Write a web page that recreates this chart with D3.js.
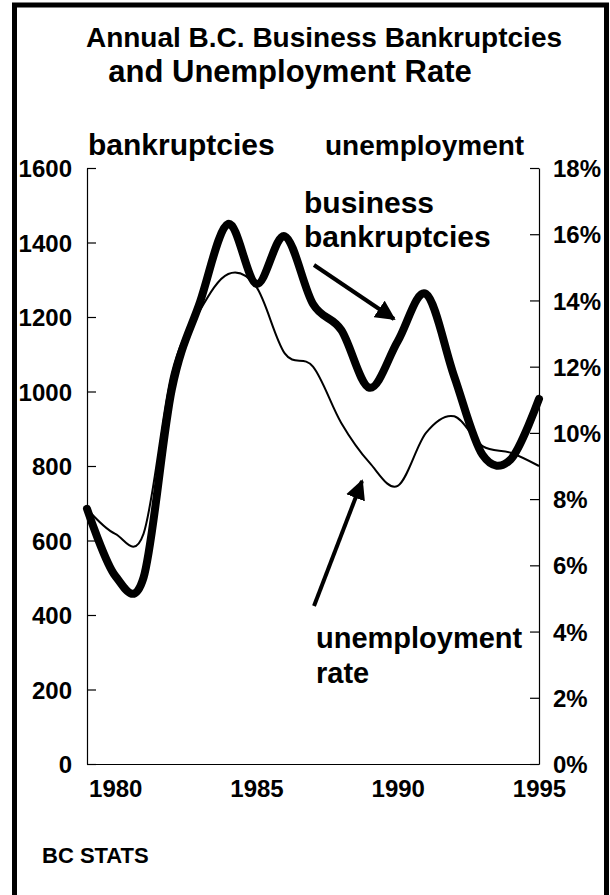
<!DOCTYPE html>
<html>
<head>
<meta charset="utf-8">
<script src="https://cdn.jsdelivr.net/npm/d3@7"></script>
<style>
  body { margin: 0; background: #fff; }
  text { font-family: "Liberation Sans", Arial, sans-serif; font-weight: bold; fill: #000; }
</style>
</head>
<body>
<div id="chart"></div>
<script>
var svgWidth = 610;
var svgHeight = 895;

// data
var years = [1979, 1980, 1981, 1982, 1983, 1984, 1985, 1986, 1987,
             1988, 1989, 1990, 1991, 1992, 1993, 1994, 1995];
var bankruptcies = [685, 505, 500, 1005, 1240, 1450, 1289, 1417, 1235,
                    1165, 1010, 1135, 1262, 1040, 830, 818, 980];
var unemployment = [7.7, 6.95, 6.95, 11.8, 13.7, 14.8, 14.4, 12.4, 12.0,
                    10.3, 9.1, 8.4, 10.0, 10.5, 9.6, 9.4, 9.0];
var yearTicks = [1980, 1985, 1990, 1995];
var countTicks = [0, 200, 400, 600, 800, 1000, 1200, 1400, 1600];
var rateTicks = [0, 2, 4, 6, 8, 10, 12, 14, 16, 18];

var plot = { left: 87, right: 539, top: 168, bottom: 764 };

var svg = d3.select("#chart")
  .append("svg")
  .attr("width", svgWidth)
  .attr("height", svgHeight);

// outer frame
svg.append("rect")
  .attr("x", 14.5).attr("y", 5)
  .attr("width", 592).attr("height", 910)
  .attr("fill", "none")
  .attr("stroke", "#000")
  .attr("stroke-width", 5);

var x = d3.scaleLinear().domain([1979, 1995]).range([plot.left, plot.right]);
var yLeft = d3.scaleLinear().domain([0, 1600]).range([plot.bottom, plot.top]);
var yRight = d3.scaleLinear().domain([0, 18]).range([plot.bottom, plot.top]);

// axes
var leftAxis = svg.append("g")
  .attr("transform", `translate(${plot.left},0)`)
  .call(d3.axisLeft(yLeft).tickValues(countTicks).tickSize(-9).tickPadding(15)
    .tickSizeOuter(0).tickFormat(d3.format("d")));

var rightAxis = svg.append("g")
  .attr("transform", `translate(${plot.right},0)`)
  .call(d3.axisRight(yRight).tickValues(rateTicks).tickSize(-9).tickPadding(14)
    .tickSizeOuter(0).tickFormat(d => d + "%"));

var bottomAxis = svg.append("g")
  .attr("transform", `translate(0,${plot.bottom})`)
  .call(d3.axisBottom(x).tickValues(yearTicks).tickSize(0).tickPadding(16)
    .tickFormat(d3.format("d")));

svg.selectAll(".domain").attr("stroke", "#000").attr("stroke-width", 1.2);
svg.selectAll(".tick line").attr("stroke", "#000").attr("stroke-width", 1.2);
svg.selectAll(".tick text")
  .style("font-size", "24px")
  .style("font-family", "'Liberation Sans', Arial, sans-serif")
  .style("font-weight", "bold");
leftAxis.selectAll(".tick text").attr("dy", "0.36em");
rightAxis.selectAll(".tick text").attr("dy", "0.36em");

// lines
var rateLine = d3.line()
  .x((d, i) => x(years[i]))
  .y(d => yRight(d))
  .curve(d3.curveCardinal.tension(0));

var countLine = d3.line()
  .x((d, i) => x(years[i]))
  .y(d => yLeft(d))
  .curve(d3.curveCardinal.tension(0));

svg.append("path")
  .attr("d", rateLine(unemployment))
  .attr("fill", "none")
  .attr("stroke", "#000")
  .attr("stroke-width", 2);

svg.append("path")
  .attr("d", countLine(bankruptcies))
  .attr("fill", "none")
  .attr("stroke", "#000")
  .attr("stroke-width", 8)
  .attr("stroke-linecap", "round")
  .attr("stroke-linejoin", "round");

// title
svg.append("text")
  .attr("x", 324).attr("y", 47)
  .attr("text-anchor", "middle")
  .style("font-size", "28px")
  .text("Annual B.C. Business Bankruptcies");

svg.append("text")
  .attr("x", 290).attr("y", 82)
  .attr("text-anchor", "middle")
  .style("font-size", "31px")
  .text("and Unemployment Rate");

// axis headers
svg.append("text")
  .attr("x", 88).attr("y", 155)
  .style("font-size", "30px")
  .text("bankruptcies");

svg.append("text")
  .attr("x", 325).attr("y", 155)
  .style("font-size", "28px")
  .text("unemployment");

// annotations with arrows
svg.append("defs").append("marker")
  .attr("id", "head")
  .attr("viewBox", "0 0 10 10")
  .attr("refX", 9).attr("refY", 5)
  .attr("markerWidth", 5).attr("markerHeight", 5)
  .attr("markerUnits", "strokeWidth")
  .attr("orient", "auto")
  .append("path")
  .attr("d", "M0,0 L10,5 L0,10 Z")
  .attr("fill", "#000");

svg.append("text")
  .attr("x", 304).attr("y", 213)
  .style("font-size", "30px")
  .text("business");
svg.append("text")
  .attr("x", 304).attr("y", 247)
  .style("font-size", "30px")
  .text("bankruptcies");

svg.append("line")
  .attr("x1", 314).attr("y1", 265)
  .attr("x2", 394).attr("y2", 319)
  .attr("stroke", "#000")
  .attr("stroke-width", 4)
  .attr("marker-end", "url(#head)");

svg.append("text")
  .attr("x", 316).attr("y", 648)
  .style("font-size", "29px")
  .text("unemployment");
svg.append("text")
  .attr("x", 316).attr("y", 683)
  .style("font-size", "29px")
  .text("rate");

svg.append("line")
  .attr("x1", 314).attr("y1", 606)
  .attr("x2", 362).attr("y2", 481)
  .attr("stroke", "#000")
  .attr("stroke-width", 4)
  .attr("marker-end", "url(#head)");

// source
svg.append("text")
  .attr("x", 42).attr("y", 863)
  .style("font-size", "22px")
  .text("BC STATS");
</script>
</body>
</html>
